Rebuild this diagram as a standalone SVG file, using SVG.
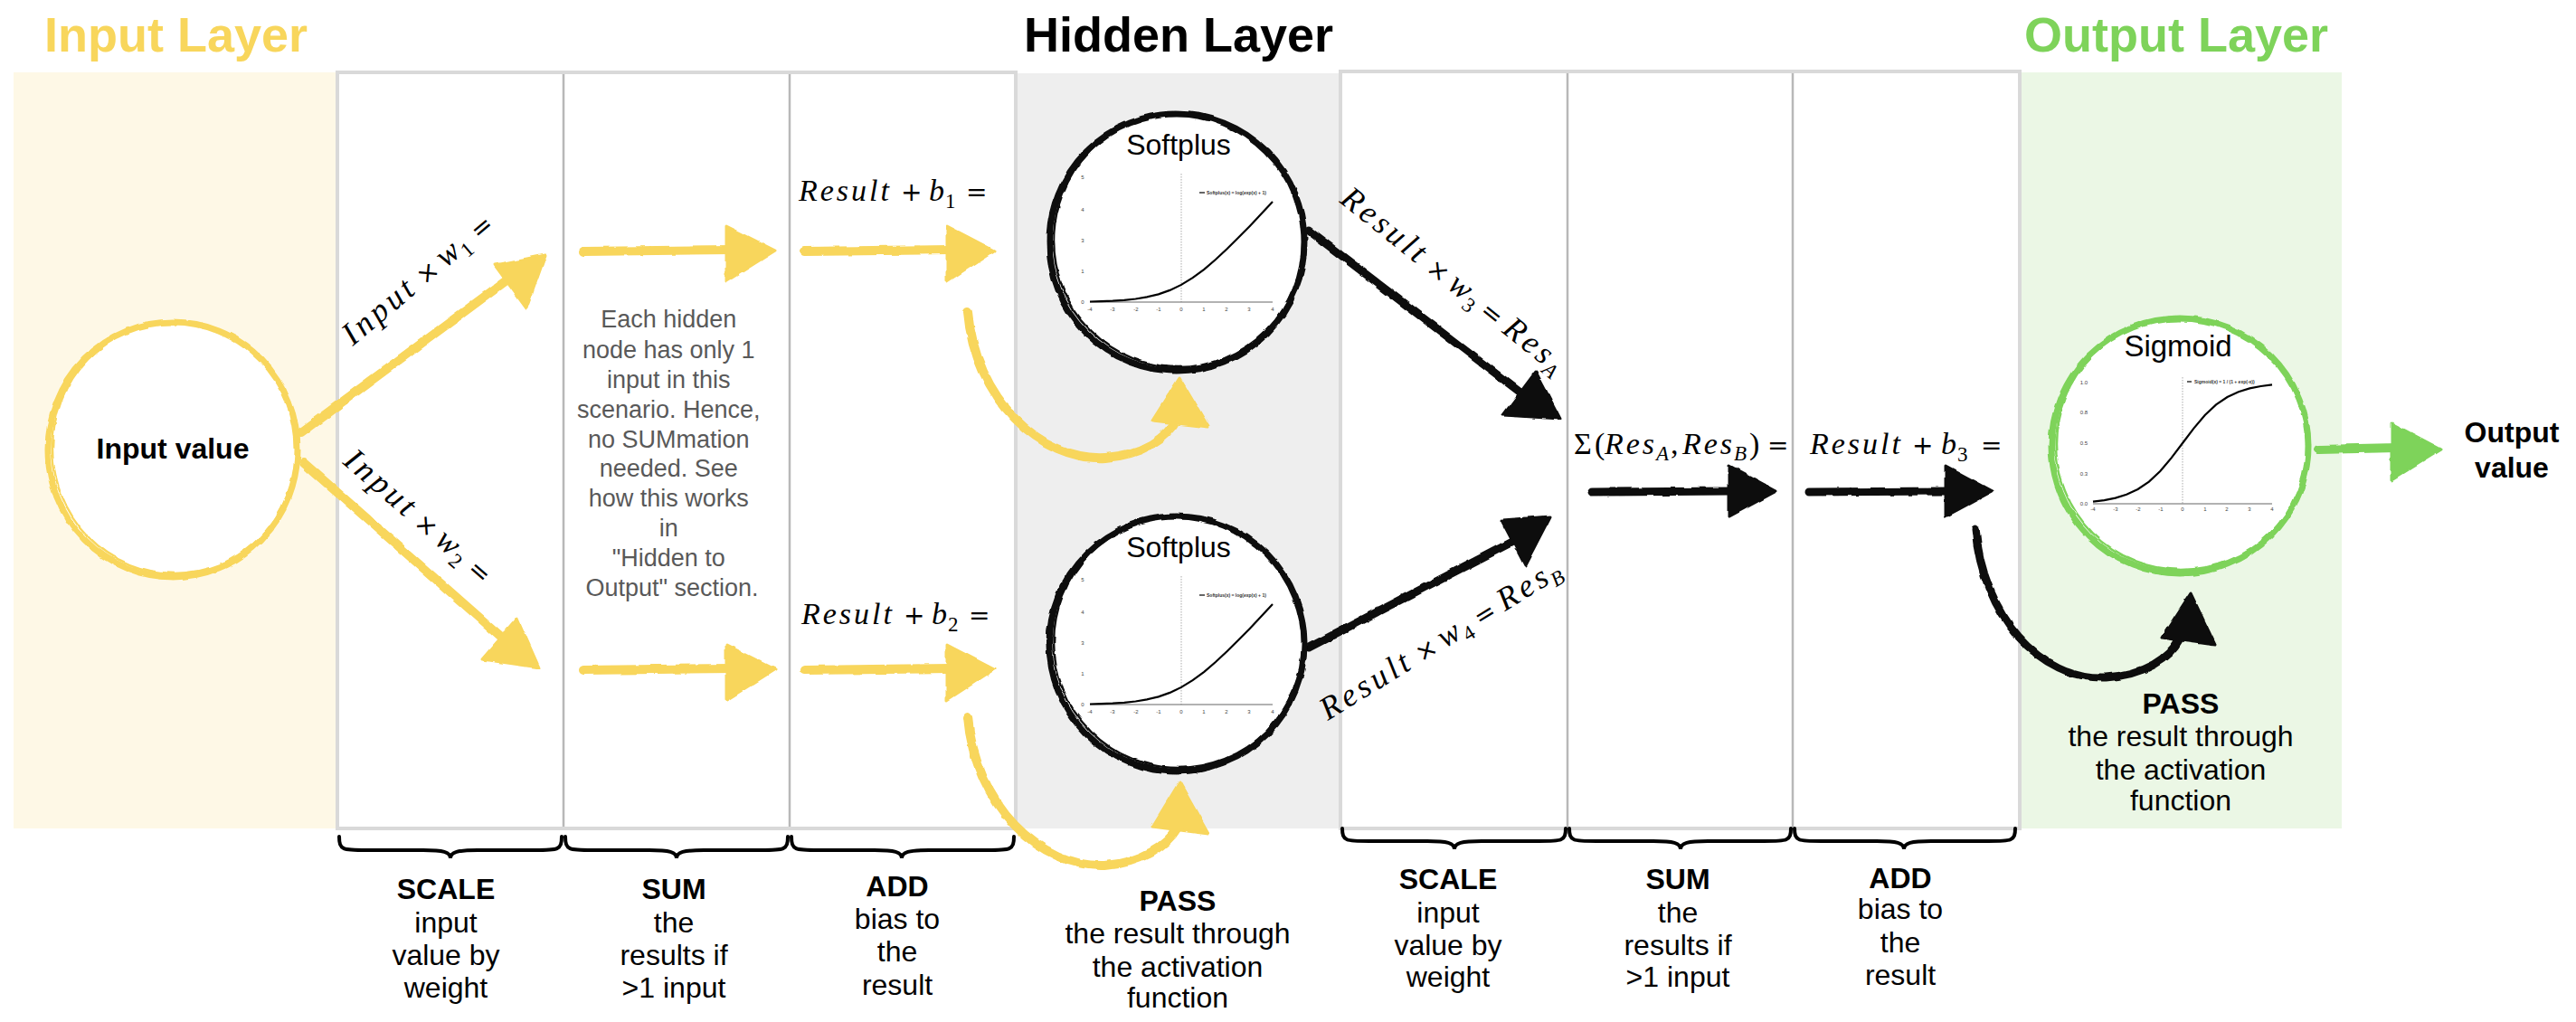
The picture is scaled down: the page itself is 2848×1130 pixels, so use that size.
<svg xmlns="http://www.w3.org/2000/svg" width="2848" height="1130" viewBox="0 0 2848 1130">
<defs>
<style>
.title{font-family:"Liberation Sans",Arial,sans-serif;font-weight:bold;font-size:54px}
.lbl{font-family:"Liberation Sans",Arial,sans-serif;font-size:32px;text-anchor:middle;fill:#000}
.b{font-weight:bold}
.node{font-family:"Liberation Sans",Arial,sans-serif;font-size:32px;text-anchor:middle;fill:#000}
.note{font-family:"Liberation Sans",Arial,sans-serif;font-size:27px;text-anchor:middle;fill:#595959}
.math{font-family:"Liberation Serif","Times New Roman",serif;font-size:34px;fill:#000}
.rot{font-size:36px}
.it{font-style:italic;letter-spacing:3px}
.rot .it{letter-spacing:4px}
.op{font-family:"DejaVu Sans",sans-serif;font-size:28px;font-style:normal;letter-spacing:0}
.sub{font-size:23px;font-style:normal;letter-spacing:0}
.subi{font-size:23px;font-style:italic;letter-spacing:0}
.tick{font-family:"Liberation Sans",Arial,sans-serif;font-size:6px;fill:#444;text-anchor:middle}
.leg{font-family:"Liberation Sans",Arial,sans-serif;font-size:5px;font-weight:bold;fill:#333}
.ys{fill:none;stroke:#F8D65C;stroke-width:10;stroke-linecap:round}
.yh{fill:#F8D65C;stroke:#F8D65C;stroke-width:3;stroke-linejoin:round}
.ks{fill:none;stroke:#111;stroke-width:9;stroke-linecap:round}
.kh{fill:#111;stroke:#111;stroke-width:3;stroke-linejoin:round}
.gs{fill:none;stroke:#7ED35A;stroke-width:10;stroke-linecap:round}
.gh{fill:#7ED35A;stroke:#7ED35A;stroke-width:3;stroke-linejoin:round}
.brace{fill:none;stroke:#000;stroke-width:4;stroke-linecap:round}
.col{fill:none;stroke:#d9d9d9;stroke-width:4}
.div{stroke:#b8b8b8;stroke-width:2.5}
.curve{fill:none;stroke:#000;stroke-width:2.2}
.axis{stroke:#666;stroke-width:1.2}
.dot{stroke:#aaa;stroke-width:1;stroke-dasharray:1.5 1.5}
</style>
<filter id="rough" filterUnits="userSpaceOnUse" x="0" y="0" width="2848" height="1130">
<feTurbulence type="fractalNoise" baseFrequency="0.06" numOctaves="2" seed="4" result="n"/>
<feDisplacementMap in="SourceGraphic" in2="n" scale="4" xChannelSelector="R" yChannelSelector="G"/>
</filter>
<g id="spPlot">
<line class="dot" x1="1306" y1="192" x2="1306" y2="334"/>
<line class="axis" x1="1205" y1="334" x2="1407" y2="334"/>
<polyline class="curve" points="1205,333.5 1217.6,333.2 1230.2,332.7 1242.9,331.8 1255.5,330.5 1268.1,328.4 1280.8,325.4 1293.4,320.9 1306,314.9 1318.6,307.1 1331.3,297.8 1343.9,287 1356.5,275.3 1369.1,262.8 1381.8,249.9 1394.4,236.6 1407,223.1"/>
<text class="tick" x="1197" y="198">5</text>
<text class="tick" x="1197" y="234">4</text>
<text class="tick" x="1197" y="268">3</text>
<text class="tick" x="1197" y="302">1</text>
<text class="tick" x="1197" y="336">0</text>
<text class="tick" x="1205" y="344">-4</text>
<text class="tick" x="1230" y="344">-3</text>
<text class="tick" x="1256" y="344">-2</text>
<text class="tick" x="1281" y="344">-1</text>
<text class="tick" x="1306" y="344">0</text>
<text class="tick" x="1331" y="344">1</text>
<text class="tick" x="1356" y="344">2</text>
<text class="tick" x="1381" y="344">3</text>
<text class="tick" x="1407" y="344">4</text>
<line x1="1326" y1="213" x2="1332" y2="213" stroke="#000" stroke-width="1.2"/>
<text class="leg" x="1334" y="215">Softplus(x) = log(exp(x) + 1)</text>
</g>
</defs>

<rect width="2848" height="1130" fill="#fff"/>

<g id="backgrounds">
<rect x="15" y="80" width="358" height="836" fill="#FEF8E6"/>
<rect x="1123" y="81" width="359" height="835" fill="#EEEEEE"/>
<rect x="2233" y="80" width="356" height="836" fill="#EBF7E5"/>
</g>

<g id="columns">
<rect class="col" x="373" y="80" width="750" height="836"/>
<line class="div" x1="623" y1="82" x2="623" y2="914"/>
<line class="div" x1="873" y1="82" x2="873" y2="914"/>
<rect class="col" x="1482" y="79" width="751" height="837"/>
<line class="div" x1="1733" y1="81" x2="1733" y2="914"/>
<line class="div" x1="1982" y1="81" x2="1982" y2="914"/>
</g>

<g id="titles">
<text class="title" x="49" y="57" fill="#F8D65C">Input Layer</text>
<text class="title" x="1132" y="57" fill="#000">Hidden Layer</text>
<text class="title" x="2238" y="57" fill="#7ED35A">Output Layer</text>
</g>

<g id="connectors" filter="url(#rough)">
<path class="ys" d="M333,478 L560,310"/>
<polygon class="yh" points="603,282 547,293 582,341"/>
<path class="ys" d="M336,512 L553,703"/>
<polygon class="yh" points="596,738 533,729 572,684"/>
<path class="ys" d="M645,278 L810,276"/>
<polygon class="yh" points="803,250 857,277 803,311"/>
<path class="ys" d="M645,741 L810,739"/>
<polygon class="yh" points="803,713 857,740 803,774"/>
<path class="ys" d="M890,278 L1050,276"/>
<polygon class="yh" points="1047,250 1099,277 1047,311"/>
<path class="ys" d="M890,741 L1050,739"/>
<polygon class="yh" points="1047,713 1099,740 1047,774"/>
<path class="ys" d="M1070,345 C1078,440 1150,510 1222,506 C1262,503 1290,485 1302,462"/>
<polygon class="yh" points="1304,418 1274,465 1336,472"/>
<path class="ys" d="M1070,793 C1078,890 1150,960 1222,957 C1262,954 1290,935 1302,915"/>
<polygon class="yh" points="1304,865 1274,914 1336,922"/>
<path class="ks" d="M1447,255 L1685,437"/>
<polygon class="kh" points="1725,463 1662,459 1698,411"/>
<path class="ks" d="M1447,716 L1678,596"/>
<polygon class="kh" points="1714,571 1660,575 1686,625"/>
<path class="ks" d="M1760,544 L1915,543"/>
<polygon class="kh" points="1912,515 1964,543 1912,571"/>
<path class="ks" d="M2000,544 L2155,543"/>
<polygon class="kh" points="2151,515 2203,543 2151,571"/>
<path class="ks" d="M2184,585 C2192,680 2255,752 2328,749 C2372,746 2398,728 2410,706"/>
<polygon class="kh" points="2422,656 2390,705 2449,713"/>
<path class="gs" d="M2563,497 L2650,495"/>
<polygon class="gh" points="2644,468 2699,497 2644,531"/>
</g>

<g id="node-input">
<g filter="url(#rough)">
<ellipse cx="191" cy="497" rx="138" ry="141" fill="#fff" stroke="#F8D65C" stroke-width="7"/>
<ellipse cx="193" cy="495" rx="135" ry="139" fill="none" stroke="#F8D65C" stroke-width="2.5"/>
</g>
<text class="node b" x="191" y="507">Input value</text>
</g>

<g id="node-softplus1">
<g filter="url(#rough)">
<ellipse cx="1301" cy="268" rx="141" ry="142" fill="#fff" stroke="#111" stroke-width="7"/>
<ellipse cx="1303" cy="266" rx="138" ry="140" fill="none" stroke="#111" stroke-width="2.5"/>
</g>
<text class="node" x="1303" y="171">Softplus</text>
<use href="#spPlot"/>
</g>

<g id="node-softplus2">
<g filter="url(#rough)">
<ellipse cx="1301" cy="712" rx="141" ry="141" fill="#fff" stroke="#111" stroke-width="7"/>
<ellipse cx="1303" cy="710" rx="138" ry="139" fill="none" stroke="#111" stroke-width="2.5"/>
</g>
<text class="node" x="1303" y="616">Softplus</text>
<use href="#spPlot" y="445"/>
</g>

<g id="node-sigmoid">
<g filter="url(#rough)">
<ellipse cx="2410" cy="493" rx="142" ry="141" fill="#fff" stroke="#7ED35A" stroke-width="7"/>
<ellipse cx="2412" cy="491" rx="139" ry="139" fill="none" stroke="#7ED35A" stroke-width="2.5"/>
</g>
<text class="node" x="2408" y="394" style="font-size:33px">Sigmoid</text>
<line class="dot" x1="2413" y1="417" x2="2413" y2="557"/>
<line class="axis" x1="2314" y1="557" x2="2512" y2="557"/>
<polyline class="curve" points="2314,554.6 2326.4,553.1 2338.75,550.6 2351.1,546.8 2363.5,541 2375.9,532.6 2388.25,521 2400.6,506.4 2413,490 2425.4,473.6 2437.75,459 2450.1,447.4 2462.5,439 2474.9,433.2 2487.25,429.4 2499.6,427 2512,425.4"/>
<text class="tick" x="2304" y="425">1.0</text>
<text class="tick" x="2304" y="458">0.8</text>
<text class="tick" x="2304" y="492">0.5</text>
<text class="tick" x="2304" y="526">0.3</text>
<text class="tick" x="2304" y="559">0.0</text>
<text class="tick" x="2314" y="565">-4</text>
<text class="tick" x="2339" y="565">-3</text>
<text class="tick" x="2364" y="565">-2</text>
<text class="tick" x="2389" y="565">-1</text>
<text class="tick" x="2413" y="565">0</text>
<text class="tick" x="2438" y="565">1</text>
<text class="tick" x="2462" y="565">2</text>
<text class="tick" x="2487" y="565">3</text>
<text class="tick" x="2512" y="565">4</text>
<line x1="2418" y1="422" x2="2423" y2="422" stroke="#000" stroke-width="1.2"/>
<text class="leg" x="2426" y="424">Sigmoid(x) = 1 / (1 + exp(-x))</text>
</g>

<g id="node-output">
<text class="node b" x="2777" y="489">Output</text>
<text class="node b" x="2777" y="528">value</text>
</g>

<g id="math-labels">
<text class="math rot" transform="translate(390,383) rotate(-40)"><tspan class="it">Input</tspan><tspan class="op" x="104">×</tspan><tspan class="it" x="134">w</tspan><tspan class="sub" x="160" dy="7">1</tspan><tspan class="op" dy="-7" x="182">=</tspan></text>
<text class="math rot" transform="translate(378,512) rotate(41)"><tspan class="it">Input</tspan><tspan class="op" x="104">×</tspan><tspan class="it" x="134">w</tspan><tspan class="sub" x="160" dy="7">2</tspan><tspan class="op" dy="-7" x="182">=</tspan></text>
<text class="math" x="883" y="222"><tspan class="it">Result</tspan><tspan class="op" x="996">+</tspan><tspan class="it" x="1027">b</tspan><tspan class="sub" x="1045" dy="8">1</tspan><tspan class="op" x="1068" dy="-8">=</tspan></text>
<text class="math" x="886" y="690"><tspan class="it">Result</tspan><tspan class="op" x="999">+</tspan><tspan class="it" x="1030">b</tspan><tspan class="sub" x="1048" dy="8">2</tspan><tspan class="op" x="1071" dy="-8">=</tspan></text>
<text class="math rot" transform="translate(1480,223) rotate(38.7)"><tspan class="it">Result</tspan><tspan class="op" x="122">×</tspan><tspan class="it" x="152">w</tspan><tspan class="sub" x="178" dy="7">3</tspan><tspan class="op" x="198" dy="-7">=</tspan><tspan class="it" x="230">Res</tspan><tspan class="subi" x="292" dy="7">A</tspan></text>
<text class="math rot" transform="translate(1468,797) rotate(-31.7)"><tspan class="it">Result</tspan><tspan class="op" x="122">×</tspan><tspan class="it" x="152">w</tspan><tspan class="sub" x="178" dy="7">4</tspan><tspan class="op" x="198" dy="-7">=</tspan><tspan class="it" x="230">Res</tspan><tspan class="subi" x="292" dy="7">B</tspan></text>
<text class="math" x="1740" y="502"><tspan>Σ</tspan><tspan x="1763">(</tspan><tspan class="it" x="1774">Res</tspan><tspan class="subi" x="1831" dy="7">A</tspan><tspan dy="-7" x="1847">,</tspan><tspan class="it" x="1860">Res</tspan><tspan class="subi" x="1917" dy="7">B</tspan><tspan dy="-7" x="1934">)</tspan><tspan class="op" x="1954">=</tspan></text>
<text class="math" x="2001" y="502"><tspan class="it">Result</tspan><tspan class="op" x="2114">+</tspan><tspan class="it" x="2146">b</tspan><tspan class="sub" x="2164" dy="8">3</tspan><tspan class="op" x="2190" dy="-8">=</tspan></text>
</g>

<g id="note">
<text class="note">
<tspan x="743" y="362">Each hidden</tspan>
<tspan x="743" y="396">node has only 1</tspan>
<tspan x="743" y="429">input in this</tspan>
<tspan x="743" y="462">scenario. Hence,</tspan>
<tspan x="743" y="495">no SUMmation</tspan>
<tspan x="743" y="527">needed. See</tspan>
<tspan x="743" y="560">how this works</tspan>
<tspan x="743" y="593">in</tspan>
<tspan x="743" y="626">"Hidden to</tspan>
<tspan x="743" y="659">Output" section.</tspan>
</text>
</g>

<g id="braces">
<path class="brace" d="M375,925 C375,940 379,940 405,940 L468,940 C490,940 498,942 498,949 C498,942 506,940 528,940 L591,940 C617,940 621,940 621,925"/>
<path class="brace" d="M625,925 C625,940 629,940 655,940 L718,940 C740,940 748,942 748,949 C748,942 756,940 778,940 L841,940 C867,940 871,940 871,925"/>
<path class="brace" d="M875,925 C875,940 879,940 905,940 L967,940 C989,940 997,942 997,949 C997,942 1005,940 1027,940 L1091,940 C1117,940 1121,940 1121,925"/>
<path class="brace" d="M1484,916 C1484,930 1488,930 1514,930 L1578,930 C1600,930 1608,932 1608,939 C1608,932 1616,930 1638,930 L1701,930 C1727,930 1731,930 1731,916"/>
<path class="brace" d="M1735,916 C1735,930 1739,930 1765,930 L1828,930 C1850,930 1858,932 1858,939 C1858,932 1866,930 1888,930 L1950,930 C1976,930 1980,930 1980,916"/>
<path class="brace" d="M1984,916 C1984,930 1988,930 2014,930 L2075,930 C2097,930 2105,932 2105,939 C2105,932 2113,930 2135,930 L2198,930 C2224,930 2228,930 2228,916"/>
</g>

<g id="step-labels">
<text class="lbl"><tspan class="b" x="493" y="994">SCALE</tspan><tspan x="493" y="1031">input</tspan><tspan x="493" y="1067">value by</tspan><tspan x="493" y="1103">weight</tspan></text>
<text class="lbl"><tspan class="b" x="745" y="994">SUM</tspan><tspan x="745" y="1031">the</tspan><tspan x="745" y="1067">results if</tspan><tspan x="745" y="1103">&gt;1 input</tspan></text>
<text class="lbl"><tspan class="b" x="992" y="991">ADD</tspan><tspan x="992" y="1027">bias to</tspan><tspan x="992" y="1063">the</tspan><tspan x="992" y="1100">result</tspan></text>
<text class="lbl"><tspan class="b" x="1302" y="1007">PASS</tspan><tspan x="1302" y="1043">the result through</tspan><tspan x="1302" y="1080">the activation</tspan><tspan x="1302" y="1114">function</tspan></text>
<text class="lbl"><tspan class="b" x="1601" y="983">SCALE</tspan><tspan x="1601" y="1020">input</tspan><tspan x="1601" y="1056">value by</tspan><tspan x="1601" y="1091">weight</tspan></text>
<text class="lbl"><tspan class="b" x="1855" y="983">SUM</tspan><tspan x="1855" y="1020">the</tspan><tspan x="1855" y="1056">results if</tspan><tspan x="1855" y="1091">&gt;1 input</tspan></text>
<text class="lbl"><tspan class="b" x="2101" y="982">ADD</tspan><tspan x="2101" y="1016">bias to</tspan><tspan x="2101" y="1053">the</tspan><tspan x="2101" y="1089">result</tspan></text>
<text class="lbl"><tspan class="b" x="2411" y="789">PASS</tspan><tspan x="2411" y="825">the result through</tspan><tspan x="2411" y="862">the activation</tspan><tspan x="2411" y="896">function</tspan></text>
</g>
</svg>
